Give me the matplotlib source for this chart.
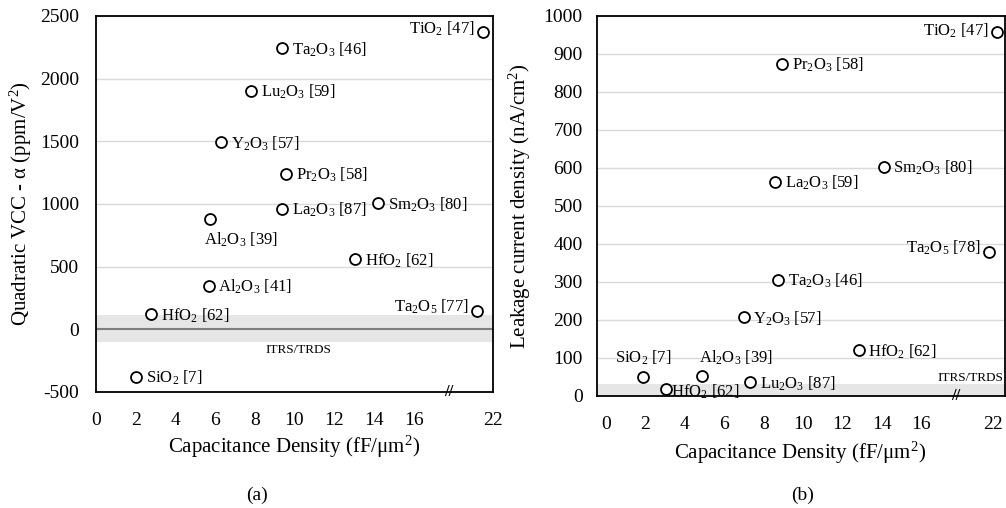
import numpy as np
import matplotlib
matplotlib.use("Agg")
import matplotlib.pyplot as plt
import matplotlib.transforms as mtransforms

plt.rcParams['font.family'] = ['Liberation Serif', 'DejaVu Serif']
plt.rcParams['mathtext.fontset'] = 'custom'
plt.rcParams['mathtext.rm'] = 'Liberation Serif'
plt.rcParams['mathtext.it'] = 'Liberation Serif:italic'
plt.rcParams['axes.unicode_minus'] = False

# ---------------- data: panel (a) ----------------
a_labels = ["TiO$_\\mathregular{2}$ [47]", "Ta$_\\mathregular{2}$O$_\\mathregular{3}$ [46]",
            "Lu$_\\mathregular{2}$O$_\\mathregular{3}$ [59]", "Y$_\\mathregular{2}$O$_\\mathregular{3}$ [57]",
            "Pr$_\\mathregular{2}$O$_\\mathregular{3}$ [58]", "La$_\\mathregular{2}$O$_\\mathregular{3}$ [87]",
            "Sm$_\\mathregular{2}$O$_\\mathregular{3}$ [80]", "Al$_\\mathregular{2}$O$_\\mathregular{3}$ [39]",
            "HfO$_\\mathregular{2}$ [62]", "Al$_\\mathregular{2}$O$_\\mathregular{3}$ [41]",
            "HfO$_\\mathregular{2}$ [62]", "Ta$_\\mathregular{2}$O$_\\mathregular{5}$ [77]",
            "SiO$_\\mathregular{2}$ [7]"]
a_x = [21.0, 9.39, 7.81, 6.30, 9.59, 9.36, 14.21, 5.72, 13.07, 5.68, 2.79, 20.42, 2.04]
a_y = [2375, 2243, 1905, 1493, 1241, 964, 1007, 879, 560, 349, 121, 148, -377]
a_yticks = [-500, 0, 500, 1000, 1500, 2000, 2500]
a_band = (-105, 115)

# ---------------- data: panel (b) ----------------
b_labels = ["TiO$_\\mathregular{2}$ [47]", "Pr$_\\mathregular{2}$O$_\\mathregular{3}$ [58]",
            "Sm$_\\mathregular{2}$O$_\\mathregular{3}$ [80]", "La$_\\mathregular{2}$O$_\\mathregular{3}$ [59]",
            "Ta$_\\mathregular{2}$O$_\\mathregular{5}$ [78]", "Ta$_\\mathregular{2}$O$_\\mathregular{3}$ [46]",
            "Y$_\\mathregular{2}$O$_\\mathregular{3}$ [57]", "HfO$_\\mathregular{2}$ [62]",
            "SiO$_\\mathregular{2}$ [7]", "Al$_\\mathregular{2}$O$_\\mathregular{3}$ [39]",
            "HfO$_\\mathregular{2}$ [62]", "Lu$_\\mathregular{2}$O$_\\mathregular{3}$ [87]"]
b_x = [21.7, 8.95, 14.09, 8.57, 20.9, 8.73, 6.99, 12.82, 1.89, 4.85, 3.04, 7.33]
b_y = [958, 875, 603, 564, 379, 306, 208, 120, 50, 52, 19, 37]
b_yticks = [0, 100, 200, 300, 400, 500, 600, 700, 800, 900, 1000]
b_band = (0, 31)

x_ticks = [0, 2, 4, 6, 8, 10, 12, 14, 16, 22]
x_break = 17.75

# label placement: (dx, dy in points, ha, va)
a_pos = [(-6, 2, 'right', 'center'), (7, -1, 'left', 'center'), (7, -1, 'left', 'center'),
         (7, -1, 'left', 'center'), (7, -1, 'left', 'center'), (7, -1, 'left', 'center'),
         (7, -1, 'left', 'center'), (-4, -8, 'left', 'top'), (7, -1, 'left', 'center'),
         (7, -1, 'left', 'center'), (7, -1, 'left', 'center'), (-6, 3, 'right', 'center'),
         (7, -1, 'left', 'center')]
b_pos = [(-6, 1, 'right', 'center'), (7, -1, 'left', 'center'), (7, -1, 'left', 'center'),
         (7, -1, 'left', 'center'), (-6, 3, 'right', 'center'), (7, -1, 'left', 'center'),
         (7, -1, 'left', 'center'), (7, -1, 'left', 'center'), (0, 7, 'center', 'bottom'),
         (-2, 7, 'left', 'bottom'), (4, -2, 'left', 'center'), (7, -1, 'left', 'center')]


def fwd(x):
    x = np.asarray(x, dtype=float)
    return np.where(x <= 18, x, 18 + (x - 18) / 2.0)


def inv(x):
    x = np.asarray(x, dtype=float)
    return np.where(x <= 18, x, 18 + (x - 18) * 2.0)


fig = plt.figure(figsize=(10.06, 5.08), dpi=100)
axa = fig.add_axes([96 / 1006, 1 - 392 / 508, 397 / 1006, 376 / 508])
axb = fig.add_axes([596.5 / 1006, 1 - 396 / 508, 408 / 1006, 380 / 508])

grid_c = '#d9d9d9'
TICK_FS = 14
ANN_FS = 12
LAB_FS = 15


def style(ax, yticks, ylim, xlim, ypad):
    ax.set_xscale('function', functions=(fwd, inv))
    ax.set_xlim(*xlim)
    ax.set_ylim(*ylim)
    ax.set_xticks(x_ticks)
    ax.set_xticklabels([str(t) for t in x_ticks])
    ax.set_yticks(yticks)
    ax.tick_params(axis='both', length=0, labelsize=TICK_FS)
    ax.tick_params(axis='y', pad=ypad)
    ax.tick_params(axis='x', pad=14.5)
    for t in yticks:
        ax.axhline(t, color=grid_c, lw=1.0, zorder=0)
    for s in ax.spines.values():
        s.set_linewidth(1.3)
        s.set_color('black')
    trans = mtransforms.blended_transform_factory(ax.transData, ax.transAxes)
    ax.text(x_break, 0, '//', transform=trans, ha='center', va='center',
            fontsize=12, fontweight='bold', clip_on=False, zorder=5)


# ---------- panel (a) ----------
style(axa, a_yticks, (-500, 2500), (0, 22), 12)
axa.axhspan(a_band[0], a_band[1], color='#e6e6e6', lw=0, zorder=0.5)
axa.axhline(0, color='#7f7f7f', lw=1.5, zorder=1)
axa.scatter(a_x, a_y, s=62, facecolors='white', edgecolors='black', linewidths=1.3, zorder=3,
            clip_on=False)
for lab, x, y, (dx, dy, ha, va) in zip(a_labels, a_x, a_y, a_pos):
    axa.annotate(lab, (x, y), xytext=(dx, dy), textcoords='offset points', ha=ha, va=va,
                 fontsize=ANN_FS)
axa.text(10.2, -165, 'ITRS/TRDS', ha='center', va='center', fontsize=9.5)
axa.set_ylabel('Quadratic VCC - α (ppm/V$^\\mathregular{2}$)', fontsize=LAB_FS)
axa.set_xlabel('Capacitance Density (fF/μm$^\\mathregular{2}$)', fontsize=LAB_FS)
axa.yaxis.set_label_coords(-0.156, 0.5)
axa.xaxis.set_label_coords(0.5, -0.112)

# ---------- panel (b) ----------
style(axb, b_yticks, (0, 1000), (-0.48, 22.44), 10)
axb.axhspan(b_band[0], b_band[1], color='#e6e6e6', lw=0, zorder=0.5)
axb.scatter(b_x, b_y, s=62, facecolors='white', edgecolors='black', linewidths=1.3, zorder=3,
            clip_on=False)
for lab, x, y, (dx, dy, ha, va) in zip(b_labels, b_x, b_y, b_pos):
    axb.annotate(lab, (x, y), xytext=(dx, dy), textcoords='offset points', ha=ha, va=va,
                 fontsize=ANN_FS)
axb.text(22.3, 47, 'ITRS/TRDS', ha='right', va='center', fontsize=9.5)
axb.set_ylabel('Leakage current density (nA/cm$^\\mathregular{2}$)', fontsize=LAB_FS)
axb.set_xlabel('Capacitance Density (fF/μm$^\\mathregular{2}$)', fontsize=LAB_FS)
axb.yaxis.set_label_coords(-0.156, 0.5)
axb.xaxis.set_label_coords(0.5, -0.116)

# keep the last tick label of panel (b) inside the picture
last = axb.get_xticklabels()[-1]
last.set_transform(last.get_transform() + mtransforms.ScaledTranslation(-5 / 72, 0, fig.dpi_scale_trans))

fig.text(257 / 1006, 1 - 495 / 508, '(a)', ha='center', va='center', fontsize=14)
fig.text(803 / 1006, 1 - 495 / 508, '(b)', ha='center', va='center', fontsize=14)

fig.savefig('out.png', dpi=100)
